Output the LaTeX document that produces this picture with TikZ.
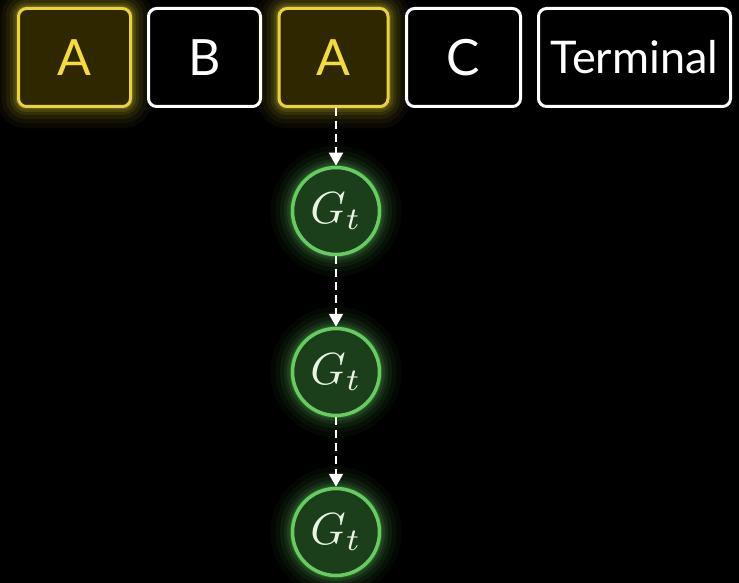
\documentclass[tikz,border=0pt]{standalone}
\usepackage{fontspec}
\setsansfont{Lato}
\usetikzlibrary{arrows.meta}
\definecolor{ybox}{HTML}{E8D43A}
\definecolor{yfill}{HTML}{2E2700}
\definecolor{ytext}{HTML}{F2DC3A}
\definecolor{gstroke}{HTML}{66CC62}
\definecolor{gfill}{HTML}{1B3F1B}
\definecolor{gtext}{HTML}{E8F4E4}
\tikzset{
 glow/.style={preaction={draw=#1,line width=44pt,opacity=0.04},
              preaction={draw=#1,line width=34pt,opacity=0.05},
              preaction={draw=#1,line width=25pt,opacity=0.07},
              preaction={draw=#1,line width=17pt,opacity=0.09},
              preaction={draw=#1,line width=11pt,opacity=0.12},
              preaction={draw=#1,line width=6pt,opacity=0.18}},
 tok/.style={draw, line width=3pt, rounded corners=8pt, minimum height=98pt, inner sep=0pt,
             font=\sffamily\fontsize{50}{50}\selectfont},
 ytok/.style={tok, draw=ybox, fill=yfill, text=ytext, glow=ybox},
 wtok/.style={tok, draw=white, fill=black, text=white},
 state/.style={circle, draw=gstroke, fill=gfill, line width=3.5pt, minimum size=87pt,
               inner sep=0pt, text=gtext, glow=gstroke},
 flow/.style={white, line width=2pt, dash pattern=on 8pt off 5pt,
              -{Triangle[width=14pt,length=13pt]}}
}
\newcommand{\gsym}{\scalebox{4.5}{$G_t$}}
\begin{document}
\begin{tikzpicture}[x=1pt,y=-1pt]
\fill[black] (0,0) rectangle (739,583);
\useasboundingbox (0,0) rectangle (739,583);
\node[ytok, minimum width=112pt] (a1) at (74.5,57.5) {A};
\node[wtok, minimum width=112pt] (b) at (204.5,57.5) {B};
\node[ytok, minimum width=109pt] (a2) at (333.5,57.5) {A};
\node[wtok, minimum width=114pt] (c) at (463.5,57.5) {C};
\node[wtok, minimum width=192pt, font=\sffamily\fontsize{45}{45}\selectfont] (t) at (634.5,57.5) {Terminal};
\node[state] (g1) at (336,211) {\gsym};
\node[state] (g2) at (336,372) {\gsym};
\node[state] (g3) at (336,532) {\gsym};
\draw[flow] (a2.south -| g1.north) -- (g1.north);
\draw[flow] (g1) -- (g2);
\draw[flow] (g2) -- (g3);
\end{tikzpicture}
\end{document}
